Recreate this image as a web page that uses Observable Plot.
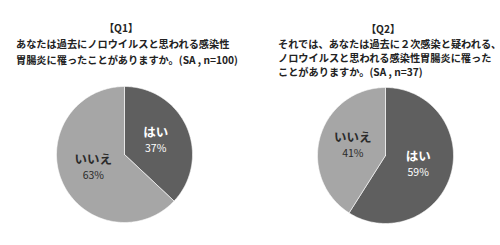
<!DOCTYPE html>
<html><head><meta charset="utf-8">
<script src="https://cdn.jsdelivr.net/npm/d3@7"></script>
<script src="https://cdn.jsdelivr.net/npm/@observablehq/plot@0.6"></script>
<style>
html,body{margin:0;padding:0;background:#fff;}
#root{position:relative;width:500px;height:245px;overflow:hidden;font-family:"Noto Sans CJK JP",sans-serif;color:#222;}
.t{position:absolute;white-space:nowrap;font-size:10.2px;font-weight:bold;line-height:1;}
.pie{position:absolute;}
</style></head>
<body><div id="root"></div>
<script>
const categories = ["はい", "いいえ"];
const q1Values = [37, 63];
const q2Values = [59, 41];
const q1Title = ["【Q1】", "あなたは過去にノロウイルスと思われる感染性", "胃腸炎に罹ったことがありますか。(SA , n=100)"];
const q2Title = ["【Q2】", "それでは、あなたは過去に２次感染と疑われる、", "ノロウイルスと思われる感染性胃腸炎に罹った", "ことがありますか。(SA , n=37)"];
const sliceColors = ["#5f5f5f", "#a6a6a6"];
const labelColors = ["#ffffff", "#2a2a2a"];

const root = document.getElementById("root");

function addText(txt, left, top, center) {
  const d = document.createElement("div");
  d.className = "t";
  d.textContent = txt;
  d.style.top = top + "px";
  if (center) { d.style.left = left + "px"; d.style.transform = "translateX(-50%)"; }
  else d.style.left = left + "px";
  root.appendChild(d);
}
// Q1 title
addText(q1Title[0], 121, 23, true);
addText(q1Title[1], 16, 39, false);
addText(q1Title[2], 16, 55, false);
// Q2 title
addText(q2Title[0], 383, 24, true);
addText(q2Title[1], 278, 39, false);
addText(q2Title[2], 278, 53, false);
addText(q2Title[3], 278, 67, false);

function pie(values, left, top) {
  const total = d3.sum(values);
  const pts = [];
  const labels = [];
  let cum = 0;
  values.forEach((v, i) => {
    const a0 = cum / total * 2 * Math.PI;
    const a1 = (cum + v) / total * 2 * Math.PI;
    pts.push({k: categories[i], x: 0, y: 0});
    const n = Math.max(2, Math.ceil((a1 - a0) / (Math.PI / 180)));
    for (let j = 0; j <= n; j++) {
      const t = a0 + (a1 - a0) * j / n;
      pts.push({k: categories[i], x: Math.sin(t), y: Math.cos(t)});
    }
    pts.push({k: categories[i], x: 0, y: 0});
    const m = (a0 + a1) / 2;
    labels.push({k: categories[i], v, i, x: 0.5 * Math.sin(m), y: 0.5 * Math.cos(m)});
    cum += v;
  });
  const svg = Plot.plot({
    width: 140, height: 140, margin: 2,
    x: {domain: [-1, 1], axis: null},
    y: {domain: [-1, 1], axis: null},
    color: {domain: categories, range: sliceColors},
    style: {background: "transparent", overflow: "visible"},
    marks: [
      Plot.line(pts, {x: "x", y: "y", z: "k", fill: "k", stroke: "#fff", strokeWidth: 0.6, curve: "linear"}),
      Plot.text(labels, {x: "x", y: "y", text: "k", dy: -8, fontSize: 12.5, fontWeight: "bold",
        fill: d => labelColors[d.i], fontFamily: "Noto Sans CJK JP"}),
      Plot.text(labels, {x: "x", y: "y", text: d => d.v + "%", dy: 8, fontSize: 10.5,
        fill: d => labelColors[d.i], fontFamily: "Noto Sans CJK JP"})
    ]
  });
  svg.classList.add("pie");
  svg.style.left = left + "px";
  svg.style.top = top + "px";
  root.appendChild(svg);
}
pie(q1Values, 54, 84);
pie(q2Values, 315, 85);
</script></body></html>
